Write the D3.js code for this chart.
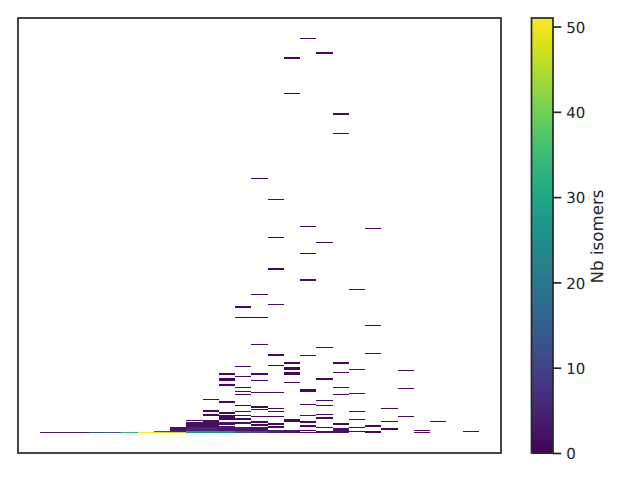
<!DOCTYPE html>
<html><head><meta charset="utf-8">
<script src="https://cdn.jsdelivr.net/npm/d3@7"></script>
<style>html,body{margin:0;padding:0;background:#fff}svg{display:block}text{font-family:"DejaVu Sans",sans-serif;fill:#262626;text-rendering:geometricPrecision}</style>
</head><body><svg id="c" width="640" height="480"></svg>
<script>
// each cell: [bin, binSpan, isomerCount]; outer index is the column
const columns = [
 [[0,1,3]],
 [[0,1,3]],
 [[0,1,4]],
 [[0,1,13]],
 [[0,1,15]],
 [[0,1,33]],
 [[0,1,51]],
 [[0,1,49],[1,1,13]],
 [[0,1,47],[1,2,4],[3,3,2]],
 [[0,2,28],[2,4,5],[6,5,2],[12,1,1]],
 [[0,2,27],[2,4,5],[6,7,2],[17,2,1],[21,2,1],[33,1,1]],
 [[0,2,26],[2,5,3],[8,3,2],[13,5,1],[19,2,1],[30,2,1],[47,2,1],[52,3,1],[58,2,1]],
 [[0,2,14],[2,4,3],[9,2,2],[13,2,1],[17,1,1],[21,1,1],[27,1,1],[38,1,1],[41,1,1],[45,1,1],[56,1,1],[66,1,1],[115,1,1],[125,2,1]],
 [[0,2,11],[2,4,2],[7,2,1],[10,2,1],[16,1,1],[23,1,1],[25,2,1],[40,1,1],[52,1,1],[58,2,1],[88,1,1],[115,1,1],[138,1,1],[254,1,1]],
 [[0,3,5],[5,2,1],[8,2,1],[16,1,1],[21,1,1],[24,1,1],[40,1,1],[67,1,1],[77,2,1],[128,1,1],[163,2,1],[195,1,1],[233,1,1]],
 [[0,3,3],[11,3,1],[50,1,1],[58,3,1],[63,3,1],[69,2,1],[339,1,1],[374,2,1]],
 [[0,1,2],[2,1,1],[6,2,1],[10,2,1],[17,1,1],[28,1,1],[41,3,1],[77,1,1],[152,2,1],[179,1,1],[206,1,1],[394,1,1]],
 [[0,2,2],[5,1,1],[14,2,1],[18,1,1],[27,1,1],[32,1,1],[53,2,1],[85,1,1],[190,1,1],[379,2,1]],
 [[0,5,2],[8,2,1],[38,1,1],[45,1,1],[60,1,1],[69,2,1],[299,1,1],[318,2,1]],
 [[1,1,1],[5,1,1],[13,1,1],[21,1,1],[39,1,1],[63,1,1],[143,1,1]],
 [[0,2,1],[6,2,1],[79,1,1],[107,1,1],[204,1,1]],
 [[3,2,1],[11,1,1],[24,1,1]],
 [[16,1,1],[44,1,1],[62,1,1]],
 [[0,1,1],[2,1,1]],
 [[11,1,1]],
 [],
 [[1,1,1]]
];
const colorTicks = [0,10,20,30,40,50];
const colorMax = 51;
const colorLabel = "Nb isomers";

const svg = d3.select("#c");
const frame = {l:18, r:501, t:18, b:453};
const x = d3.scaleLinear().domain([0,27]).range([40,479]);
const y = d3.scaleLinear().domain([-20,415]).range([frame.b,frame.t]);
const color = d3.scaleSequential(d3.interpolateViridis).domain([0,colorMax]);

const cells = columns.flatMap((c,i)=>c.map(d=>({col:i,bin:d[0],span:d[1],n:d[2]})));
svg.append("g").attr("shape-rendering","crispEdges").selectAll("rect").data(cells).join("rect")
  .attr("x",d=>x(d.col)).attr("width",d=>x(d.col+1)-x(d.col))
  .attr("y",d=>y(d.bin+d.span)).attr("height",d=>y(d.bin)-y(d.bin+d.span))
  .attr("fill",d=>color(d.n));
svg.append("rect").attr("x",frame.l).attr("y",frame.t)
  .attr("width",frame.r-frame.l).attr("height",frame.b-frame.t)
  .attr("fill","none").attr("stroke","#262626").attr("stroke-width",1.7);

// colour bar
const cb = {l:531.5, r:553, t:18, b:453};
const cy = d3.scaleLinear().domain([0,colorMax]).range([cb.b,cb.t]);
const levels = d3.range(256).map(i=>i/256*colorMax);
const step = colorMax/256;
svg.append("g").attr("shape-rendering","crispEdges").selectAll("rect").data(levels).join("rect")
  .attr("x",cb.l).attr("width",cb.r-cb.l)
  .attr("y",d=>cy(d+step)).attr("height",d=>cy(d)-cy(d+step)+0.5)
  .attr("fill",d=>color(d+step/2));
svg.append("rect").attr("x",cb.l).attr("y",cb.t).attr("width",cb.r-cb.l).attr("height",cb.b-cb.t)
  .attr("fill","none").attr("stroke","#262626").attr("stroke-width",1.7);
const ax = svg.append("g").attr("transform",`translate(${cb.r},0)`)
  .call(d3.axisRight(cy).tickValues(colorTicks).tickSize(8.3).tickPadding(5));
ax.select(".domain").remove();
ax.selectAll("line").attr("stroke","#262626").attr("stroke-width",1.7);
ax.selectAll("text").attr("font-size",15).attr("dy","0.38em").attr("fill","#262626").style("font-family",'"DejaVu Sans",sans-serif');
svg.append("text").attr("transform","translate(603,236.5) rotate(-90)")
  .attr("text-anchor","middle").attr("font-size",16.7).text(colorLabel);
</script></body></html>
